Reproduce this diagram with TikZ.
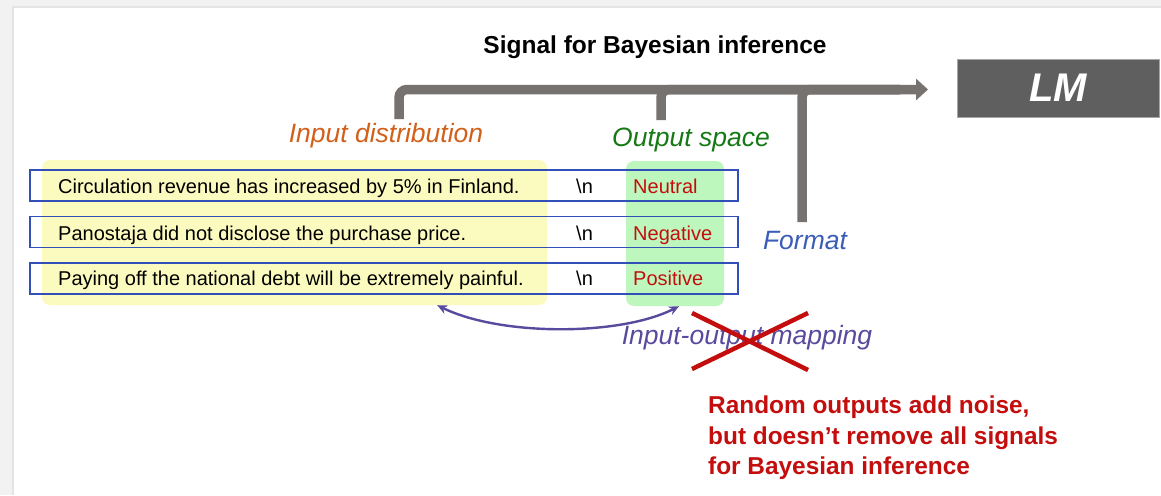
\documentclass[tikz,border=0pt]{standalone}
\usepackage{fontspec}
\setmainfont{Liberation Sans}
\usetikzlibrary{arrows.meta,calc}

\definecolor{rowblue}{HTML}{3050B8}
\definecolor{inyellow}{HTML}{FCFBBF}
\definecolor{outgreen}{HTML}{BDF7BD}
\definecolor{inorange}{HTML}{D2601A}
\definecolor{outdgreen}{HTML}{157A15}
\definecolor{fmtblue}{HTML}{3A5DB8}
\definecolor{mapviolet}{HTML}{5A4A9E}
\definecolor{noisered}{HTML}{C40E0E}
\definecolor{sigGray}{HTML}{767270}
\definecolor{lmGray}{HTML}{5F5F5F}
\definecolor{pageGray}{HTML}{F2F2F2}
\definecolor{rimGray}{HTML}{E4E4E4}

\begin{document}
\begin{tikzpicture}[x=1pt,y=-1pt,
  rowbox/.style={draw=rowblue, line width=1.6pt, minimum width=708pt,
    minimum height=31pt, inner sep=0pt},
  rowtext/.style={anchor=base west, inner sep=0pt,
    font=\fontsize{20}{24}\selectfont},
  labeltext/.style={rowtext, text=noisered},
  areabox/.style={rounded corners=8pt, minimum height=145pt, inner sep=0pt},
  cue/.style={inner sep=0pt, font=\fontsize{26.5}{30}\selectfont\itshape},
  sig/.style={draw=sigGray, line width=9.5pt, rounded corners=8pt},
  cross/.style={draw=noisered, line width=4.5pt}
]
\useasboundingbox (0,0) rectangle (1161,495);

% page background with a soft rim
\fill[pageGray] (0,0) rectangle (1161,495);
\fill[rimGray] (12,6) rectangle (1161,495);
\fill[white] (14,8) rectangle (1161,495);

% title
\node[inner sep=0pt, font=\fontsize{24.5}{28}\selectfont\bfseries] (title) at (655,47)
  {Signal for Bayesian inference};

% language model box
\node[fill=lmGray, draw=gray!70, line width=0.6pt, minimum width=202pt,
  minimum height=58pt, inner sep=0pt, text=white,
  font=\fontsize{40}{44}\selectfont\bfseries\itshape] (lm) at (1058,88) {LM};

% highlighted input and output areas
\node[areabox, fill=inyellow, minimum width=505pt] (inbox) at (294.5,232.5) {};
\node[areabox, fill=outgreen, minimum width=98pt] (outbox) at (675,233.5) {};

% demonstration rows
\node[rowbox] (r1) at (384,185.5) {};
\node[rowbox] (r2) at (384,232) {};
\node[rowbox] (r3) at (384,278.5) {};

\node[rowtext] (t1) at (58,193) {Circulation revenue has increased by 5\% in Finland.};
\node[rowtext] (t2) at (58,240) {Panostaja did not disclose the purchase price.};
\node[rowtext] (t3) at (58,285) {Paying off the national debt will be extremely painful.};

\node[rowtext] (n1) at (576,193) {\textbackslash n};
\node[rowtext] (n2) at (576,240) {\textbackslash n};
\node[rowtext] (n3) at (576,285) {\textbackslash n};

\node[labeltext] (l1) at (633,193) {Neutral};
\node[labeltext] (l2) at (633,240) {Negative};
\node[labeltext] (l3) at (633,285) {Positive};

% aspect labels
\node[cue, text=inorange] (indist) at (386,136) {Input distribution};
\node[cue, text=outdgreen] (outsp) at (691,140) {Output space};
\node[cue, text=fmtblue] (fmt) at (805,241) {Format};
\node[cue, text=mapviolet] (map) at (747,338) {Input-output mapping};

% signal lines feeding the LM
\coordinate (s1) at (399,119);
\coordinate (s2) at (661,120);
\coordinate (s3) at (802,222);
\coordinate (join) at (900,89.5);
\coordinate (tip) at (928,89.5);
\draw[sig] (s2) |- (join);
\draw[sig] (s3) |- (join);
\draw[sig, -{Triangle[length=12pt,width=21pt]}] (s1) |- (tip);

% input-output mapping arrow
\draw[mapviolet, line width=2.4pt, {Stealth[length=10pt,width=9pt]}-{Stealth[length=10pt,width=9pt]}]
  ([xshift=-110pt]inbox.south east) .. controls +(63,31) and +(-59,30) .. ([xshift=4pt]outbox.south);

% crossed out
\coordinate (xa) at (692,313);
\coordinate (xb) at (808,370);
\coordinate (xc) at (692,369);
\coordinate (xd) at (808,313);
\draw[cross] (xa) -- (xb);
\draw[cross] (xc) -- (xd);

% note
\node[anchor=north west, inner sep=0pt, align=left, text=noisered,
  font=\fontsize{24.4}{30.5}\selectfont\bfseries] (note) at (708,396)
  {Random outputs add noise,\\but doesn’t remove all signals\\for Bayesian inference};
\end{tikzpicture}
\end{document}
